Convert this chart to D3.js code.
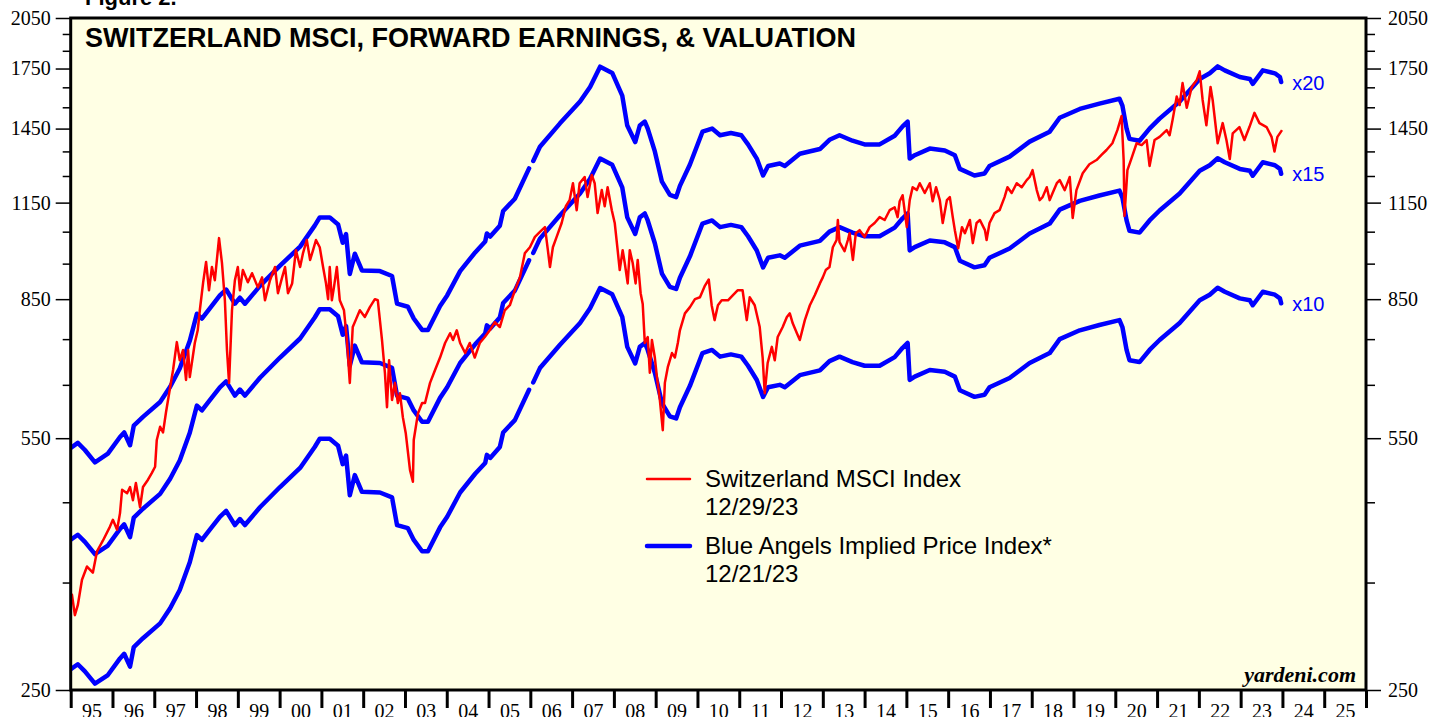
<!DOCTYPE html>
<html>
<head>
<meta charset="utf-8">
<script src="https://cdn.jsdelivr.net/npm/d3@7"></script>
<style>
  html, body { margin: 0; padding: 0; background: #ffffff; }
  svg { display: block; }
</style>
</head>
<body>
<svg id="chart" width="1434" height="717"></svg>
<script>
// ---------------- DATA ----------------
const yMajorTicks = [250, 550, 850, 1150, 1450, 1750, 2050];
const yMinorTicks = [350, 450, 650, 750, 950, 1050, 1250, 1350, 1550, 1650, 1850, 1950];
const yearTicks = d3.range(1995, 2027);          // year boundaries
const yearLabels = d3.range(1995, 2026);         // labelled years

const multiples = [10, 15, 20];
const multipleLabels = ["x10", "x15", "x20"];

// Switzerland MSCI forward earnings (Blue Angels base; x10 line = 10 * value)
const earnDates = [1995.01,1995.17,1995.34,1995.58,1995.89,1996.18,1996.28,1996.42,1996.51,1996.73,
  1997.14,1997.38,1997.61,1997.85,1998.02,1998.14,1998.33,1998.57,1998.72,1998.93,
  1999.05,1999.17,1999.53,2000.01,2000.49,2000.84,2000.96,2001.20,2001.40,2001.51,
  2001.59,2001.68,2001.80,2001.97,2002.40,2002.69,2002.81,2003.07,2003.21,2003.41,
  2003.55,2003.84,2004.01,2004.32,2004.68,2004.92,2004.96,2005.04,2005.27,2005.35,
  2005.63,2005.97,2006.02,2006.07,2006.23,2006.71,2007.19,2007.43,2007.67,2007.96,
  2008.20,2008.32,2008.51,2008.62,2008.74,2008.81,2008.98,2009.15,2009.34,2009.49,
  2009.58,2009.82,2010.12,2010.35,2010.54,2010.80,2011.05,2011.21,2011.42,2011.57,
  2011.69,2011.97,2012.09,2012.45,2012.93,2013.16,2013.40,2013.71,2014.00,2014.36,
  2014.72,2014.91,2015.03,2015.08,2015.20,2015.56,2015.92,2016.16,2016.28,2016.63,
  2016.87,2016.99,2017.47,2017.95,2018.43,2018.67,2019.15,2019.62,2020.10,2020.17,
  2020.27,2020.34,2020.58,2020.82,2021.06,2021.54,2022.02,2022.26,2022.45,2022.62,
  2022.98,2023.22,2023.29,2023.53,2023.82,2023.94,2023.97];
const fwdEarnings = [26.7,27.1,26.5,25.5,26.2,27.6,28.0,26.9,28.6,29.4,
  30.8,32.3,34.2,37.3,40.6,40.0,41.3,43.0,43.8,41.9,
  42.7,41.9,44.3,47.2,50.1,53.5,54.9,54.9,53.7,50.7,
  52.1,46.0,49.0,46.5,46.4,45.7,41.9,41.5,40.0,38.6,
  38.6,41.6,43.0,46.4,49.2,50.9,52.2,51.7,53.5,56.0,
  58.2,64.0,null,65.5,68.5,73.7,78.9,82.6,88.0,86.3,
  80.4,73.2,69.5,73.2,74.1,72.5,67.5,61.4,58.9,58.5,
  60.6,64.8,71.8,72.5,71.0,71.5,71.0,69.0,66.0,62.6,
  64.5,65.0,64.5,67.0,68.0,70.0,71.0,69.8,69.0,69.0,
  70.9,73.0,74.1,66.0,66.7,68.1,67.7,66.7,63.9,62.6,
  63.0,64.5,66.4,69.6,71.8,75.0,77.1,78.4,79.6,77.9,
  72.5,70.2,69.8,72.5,74.8,78.9,84.7,86.2,88.1,87.0,
  85.2,84.7,83.4,87.0,86.2,85.2,83.9];

// Switzerland MSCI price index
const msciDates = [1995.00,1995.03,1995.10,1995.17,1995.27,1995.39,1995.53,1995.63,1995.77,1995.94,
  1996.01,1996.11,1996.18,1996.23,1996.35,1996.42,1996.49,1996.56,1996.66,1996.73,
  1996.85,1996.94,1997.02,1997.06,1997.14,1997.21,1997.28,1997.38,1997.45,1997.54,
  1997.61,1997.69,1997.76,1997.81,1997.85,1997.97,1998.04,1998.09,1998.17,1998.24,
  1998.31,1998.38,1998.45,1998.55,1998.62,1998.69,1998.74,1998.79,1998.86,1998.93,
  1999.00,1999.05,1999.12,1999.24,1999.34,1999.48,1999.58,1999.65,1999.77,1999.89,
  1999.96,2000.06,2000.13,2000.20,2000.30,2000.39,2000.49,2000.56,2000.65,2000.73,
  2000.80,2000.87,2000.96,2001.04,2001.11,2001.16,2001.20,2001.25,2001.30,2001.37,
  2001.44,2001.54,2001.61,2001.68,2001.75,2001.82,2001.92,2002.04,2002.16,2002.28,
  2002.35,2002.45,2002.52,2002.57,2002.62,2002.69,2002.76,2002.83,2002.88,2002.95,
  2003.02,2003.12,2003.19,2003.21,2003.31,2003.41,2003.48,2003.60,2003.72,2003.84,
  2003.96,2004.08,2004.15,2004.24,2004.32,2004.44,2004.55,2004.67,2004.79,2004.91,
  2005.03,2005.15,2005.27,2005.39,2005.51,2005.63,2005.75,2005.87,2005.99,2006.11,
  2006.23,2006.35,2006.42,2006.47,2006.54,2006.63,2006.75,2006.85,2006.94,2007.02,
  2007.11,2007.18,2007.30,2007.37,2007.47,2007.54,2007.61,2007.71,2007.78,2007.85,
  2007.95,2008.02,2008.09,2008.14,2008.21,2008.26,2008.33,2008.38,2008.45,2008.52,
  2008.57,2008.64,2008.69,2008.74,2008.81,2008.86,2008.91,2008.98,2009.03,2009.10,
  2009.17,2009.22,2009.29,2009.39,2009.46,2009.53,2009.58,2009.70,2009.82,2009.94,
  2010.06,2010.18,2010.27,2010.34,2010.41,2010.49,2010.58,2010.73,2010.85,2010.96,
  2011.08,2011.18,2011.25,2011.37,2011.49,2011.56,2011.61,2011.68,2011.78,2011.85,
  2011.92,2012.04,2012.14,2012.21,2012.28,2012.38,2012.45,2012.57,2012.69,2012.81,
  2012.93,2013.00,2013.07,2013.16,2013.24,2013.33,2013.36,2013.40,2013.52,2013.60,
  2013.64,2013.72,2013.79,2013.88,2014.00,2014.12,2014.24,2014.36,2014.48,2014.60,
  2014.72,2014.79,2014.84,2014.91,2015.01,2015.08,2015.15,2015.25,2015.32,2015.44,
  2015.56,2015.63,2015.71,2015.80,2015.87,2015.97,2016.04,2016.11,2016.16,2016.24,
  2016.33,2016.40,2016.52,2016.59,2016.68,2016.76,2016.88,2016.92,2016.99,2017.11,
  2017.23,2017.35,2017.42,2017.52,2017.64,2017.76,2017.88,2017.95,2018.02,2018.12,
  2018.19,2018.26,2018.36,2018.43,2018.50,2018.60,2018.67,2018.79,2018.91,2018.98,
  2019.07,2019.22,2019.38,2019.55,2019.67,2019.79,2019.93,2020.05,2020.15,2020.20,
  2020.22,2020.29,2020.39,2020.51,2020.63,2020.75,2020.82,2020.94,2021.06,2021.23,
  2021.30,2021.37,2021.47,2021.54,2021.61,2021.71,2021.83,2021.95,2022.02,2022.09,
  2022.18,2022.28,2022.33,2022.45,2022.57,2022.66,2022.74,2022.81,2022.97,2023.09,
  2023.21,2023.33,2023.45,2023.62,2023.74,2023.81,2023.88,2023.99];
const msciValues = [331,337,316,326,353,368,361,386,399,417,
  426,413,435,468,463,472,453,478,443,472,
  483,493,503,547,570,560,596,645,681,743,
  702,725,660,725,666,741,771,821,896,955,
  874,940,902,1029,952,847,725,654,821,902,
  940,874,931,896,922,882,910,847,902,940,
  866,910,940,866,893,991,940,982,1023,961,
  991,1023,1000,940,893,850,940,847,882,940,
  847,821,748,654,779,796,821,804,829,850,
  847,748,675,606,702,620,654,614,633,587,
  558,498,480,547,594,614,614,654,681,708,
  741,764,748,771,741,718,741,708,741,755,
  771,791,779,821,834,874,910,982,1000,1033,
  1049,1065,991,940,1000,1033,1079,1137,1159,1222,
  1123,1222,1246,1170,1254,1222,1113,1196,1137,1207,
  1123,1079,991,931,991,952,893,991,952,893,
  961,866,837,741,755,675,748,708,666,620,
  564,654,687,718,708,741,771,813,829,850,
  855,887,904,834,796,834,847,847,861,874,
  874,796,855,834,779,708,633,696,732,702,
  755,779,804,813,788,764,748,796,834,861,
  893,910,931,940,1000,1023,1089,1016,988,1023,
  1045,961,1045,1055,1033,1065,1079,1099,1089,1123,
  1133,1099,1155,1177,1065,1159,1207,1196,1222,1185,
  1222,1155,1207,1159,1079,1159,1170,1099,1055,997,
  1065,1045,1089,1013,1079,1089,1055,1023,1079,1113,
  1123,1170,1207,1185,1222,1207,1234,1246,1273,1196,
  1159,1170,1207,1159,1185,1222,1234,1196,1246,1096,
  1196,1261,1297,1314,1335,1356,1385,1443,1508,1314,
  1103,1273,1322,1385,1377,1399,1290,1399,1413,1443,
  1420,1489,1603,1561,1672,1548,1652,1688,1735,1586,
  1465,1652,1586,1385,1475,1399,1318,1428,1457,1399,
  1457,1523,1475,1457,1413,1350,1413,1443];

const titleText = "SWITZERLAND MSCI, FORWARD EARNINGS, & VALUATION";
const legendItems = [
  { name: "Switzerland MSCI Index", date: "12/29/23", color: "#ff0000", width: 2.5 },
  { name: "Blue Angels Implied Price Index*", date: "12/21/23", color: "#0000ff", width: 4.5 }
];

// ---------------- CHART ----------------
const svg = d3.select("#chart");
const L = 70.7, R = 1366, T = 18, B = 690;

const x = d3.scaleLinear().domain([1995, 2026]).range([L, R]);
const y = d3.scaleLog().domain([250, 2050]).range([B, T]);

const serif = "'Liberation Serif', 'Times New Roman', serif";
const sans = "'Liberation Sans', Arial, Helvetica, sans-serif";

// "Figure 2." (cut off at top, as in the original)
svg.append("text").attr("x", 85).attr("y", 5)
  .attr("font-family", sans).attr("font-weight", "bold").attr("font-size", 22)
  .text("Figure 2.");

// plot background
svg.append("rect").attr("x", L).attr("y", T).attr("width", R - L).attr("height", B - T)
  .attr("fill", "#ffffe4");

// y axes
function styleAxis(g) {
  g.select(".domain").remove();
  g.selectAll("line").attr("stroke", "#000").attr("stroke-width", 1.5);
  g.selectAll("text").attr("font-family", serif).attr("font-size", 20).attr("fill", "#000");
}
svg.append("g").attr("transform", `translate(${L},0)`)
  .call(d3.axisLeft(y).tickValues(yMinorTicks).tickSize(8).tickFormat(""))
  .call(styleAxis);
svg.append("g").attr("transform", `translate(${L},0)`)
  .call(d3.axisLeft(y).tickValues(yMajorTicks).tickSize(15).tickPadding(5).tickFormat(d3.format("d")))
  .call(styleAxis);
svg.append("g").attr("transform", `translate(${R},0)`)
  .call(d3.axisRight(y).tickValues(yMinorTicks).tickSize(9).tickFormat(""))
  .call(styleAxis);
svg.append("g").attr("transform", `translate(${R},0)`)
  .call(d3.axisRight(y).tickValues(yMajorTicks).tickSize(15).tickPadding(7).tickFormat(d3.format("d")))
  .call(styleAxis);

// x axis
svg.append("g").attr("transform", `translate(0,${B})`)
  .call(d3.axisBottom(x).tickValues(yearTicks).tickSize(18).tickFormat(""))
  .call(g => { g.select(".domain").remove(); g.selectAll("line").attr("stroke", "#000").attr("stroke-width", 3); });
svg.append("g").attr("transform", `translate(0,${B})`)
  .call(d3.axisBottom(x).tickValues(yearLabels.map(v => v + 0.5)).tickSize(0).tickPadding(14)
    .tickFormat(d => String(Math.floor(d) % 100).padStart(2, "0")))
  .call(g => { g.select(".domain").remove();
    g.selectAll("text").attr("font-family", serif).attr("font-size", 20).attr("fill", "#000"); });

// clip for data
svg.append("clipPath").attr("id", "plotclip").append("rect")
  .attr("x", L).attr("y", T).attr("width", R - L).attr("height", B - T);

const plot = svg.append("g").attr("clip-path", "url(#plotclip)");

// blue angels lines
const earn = earnDates.map((d, i) => ({ d, v: fwdEarnings[i] }));
multiples.forEach(m => {
  const line = d3.line().defined(p => p.v != null).x(p => x(p.d)).y(p => y(p.v * m));
  plot.append("path").datum(earn).attr("d", line)
    .attr("fill", "none").attr("stroke", "#0000ff").attr("stroke-width", 4.5)
    .attr("stroke-linejoin", "round").attr("stroke-linecap", "round");
});

// MSCI index
const msci = msciDates.map((d, i) => ({ d, v: msciValues[i] }));
plot.append("path").datum(msci)
  .attr("d", d3.line().x(p => x(p.d)).y(p => y(p.v)))
  .attr("fill", "none").attr("stroke", "#ff0000").attr("stroke-width", 2.5)
  .attr("stroke-linejoin", "round");

// multiple labels at the end of the lines
const lastEarn = earn[earn.length - 1];
multiples.forEach((m, i) => {
  svg.append("text").attr("x", x(lastEarn.d) + 11).attr("y", y(lastEarn.v * m)).attr("dy", "0.38em")
    .attr("font-family", sans).attr("font-size", 20).attr("fill", "#0000ff")
    .text(multipleLabels[i]);
});

// frame
svg.append("rect").attr("x", L).attr("y", T).attr("width", R - L).attr("height", B - T)
  .attr("fill", "none").attr("stroke", "#000").attr("stroke-width", 3);

// title
svg.append("text").attr("x", 85).attr("y", 47)
  .attr("font-family", sans).attr("font-weight", "bold").attr("font-size", 27).attr("fill", "#000")
  .text(titleText);

// legend
const legend = svg.append("g");
legendItems.forEach((it, i) => {
  const cy = 479 + i * 67;
  legend.append("line").attr("x1", 647).attr("x2", 690).attr("y1", cy).attr("y2", cy)
    .attr("stroke", it.color).attr("stroke-width", it.width).attr("stroke-linecap", "round");
  legend.append("text").attr("x", 705).attr("y", cy + 8)
    .attr("font-family", sans).attr("font-size", 24).attr("fill", "#000").text(it.name);
  legend.append("text").attr("x", 705).attr("y", cy + 36)
    .attr("font-family", sans).attr("font-size", 24).attr("fill", "#000").text(it.date);
});

// source
svg.append("text").attr("x", 1356).attr("y", 682).attr("text-anchor", "end")
  .attr("font-family", serif).attr("font-weight", "bold").attr("font-style", "italic")
  .attr("font-size", 22).attr("fill", "#000").text("yardeni.com");
</script>
</body>
</html>
